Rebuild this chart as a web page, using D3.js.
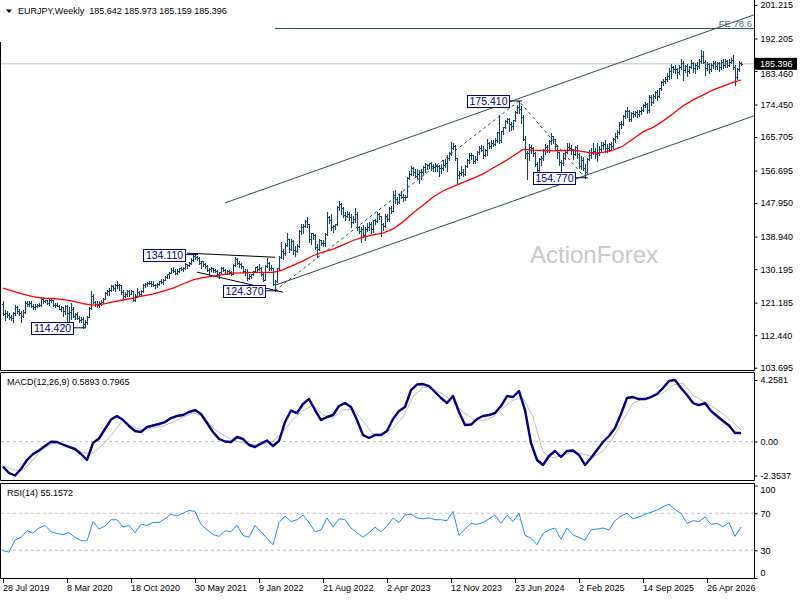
<!DOCTYPE html>
<html><head><meta charset="utf-8">
<script src="https://cdn.jsdelivr.net/npm/d3@7"></script>
<style>body{margin:0;background:#fff}svg{display:block;font-family:"Liberation Sans",Arial,sans-serif}</style>
</head><body>
<script>
// ---------- DATA (weekly EURJPY) ----------
const firstOpen = 120.9;
const closes = [
118.2,118.4,117.9,117.3,117.0,118.3,119.9,118.9,118.5,117.6,
118.6,121.1,120.7,121.2,120.3,120.1,120.4,120.6,120.5,122.1,
121.5,121.9,121.1,121.8,121.9,120.5,120.6,120.4,119.6,119.9,
118.9,120.3,118.4,118.6,119.4,117.6,118.2,117.1,116.4,116.9,
115.4,115.9,117.4,119.8,123.1,121.4,120.8,120.5,121.1,121.4,
122.3,123.8,124.4,124.6,125.6,125.0,126.0,125.8,125.9,124.1,
122.9,123.6,124.4,123.6,124.2,122.0,122.9,124.0,123.4,124.2,
126.0,126.1,126.4,126.6,126.2,126.0,125.8,126.3,127.1,126.8,
127.3,128.1,128.9,129.2,130.0,129.8,129.2,129.8,130.4,130.3,
130.4,131.6,131.3,131.9,132.6,133.6,133.4,133.3,131.9,132.3,
131.5,131.1,130.0,130.1,130.4,130.0,129.8,128.9,129.4,130.6,
129.9,129.0,129.7,129.5,129.0,131.2,133.0,131.9,131.6,131.0,
129.7,129.4,127.8,128.3,128.8,129.6,130.7,130.2,130.6,128.9,
127.4,131.0,131.8,130.5,130.4,126.3,127.0,130.4,133.5,135.0,
134.5,136.8,138.2,135.6,137.8,135.4,135.1,136.5,140.5,141.4,
141.8,143.1,142.2,138.3,139.8,139.3,136.2,135.5,137.9,137.2,
137.1,139.6,144.1,143.4,141.6,141.8,142.2,146.9,147.7,146.6,
144.7,144.6,144.9,144.3,143.0,143.6,145.0,141.5,140.5,140.9,
139.3,141.1,141.4,142.4,140.9,143.3,143.1,144.9,144.5,142.2,
141.8,144.6,143.6,146.6,145.9,150.2,149.0,148.3,150.0,149.7,
149.6,149.7,154.7,155.9,157.5,156.3,155.2,155.9,156.2,156.3,
157.6,158.4,158.2,158.6,158.0,157.7,157.9,157.9,157.5,157.4,
158.3,158.6,160.1,161.4,162.9,163.3,160.0,155.4,156.0,156.3,
155.7,157.8,159.5,160.8,160.9,159.2,159.9,161.7,162.8,162.3,
160.9,162.1,164.1,163.3,164.0,163.9,164.9,167.1,165.0,167.3,
168.3,169.9,170.6,169.1,168.6,170.2,172.4,173.8,173.3,171.2,
165.3,161.3,161.4,163.1,162.7,161.4,158.4,156.8,159.8,160.0,
162.2,163.0,162.1,164.6,165.9,165.1,163.3,161.6,158.9,158.7,
160.2,161.7,163.1,162.8,162.4,161.2,163.1,161.1,157.8,159.5,
157.4,156.3,159.9,160.9,161.8,162.0,161.1,161.5,162.4,163.5,
163.9,162.8,162.9,163.8,163.3,165.1,165.9,167.2,169.3,169.1,
171.4,172.7,172.8,170.6,172.2,171.9,172.4,171.9,172.6,172.9,
174.3,174.6,172.9,176.6,175.2,176.8,177.9,176.7,178.8,180.4,
180.9,181.2,182.0,183.6,184.5,183.9,184.0,183.2,184.6,185.5,
183.8,184.9,183.5,184.6,185.7,184.3,185.2,184.8,186.2,187.4,
186.0,184.2,185.3,184.1,185.0,185.6,184.7,185.5,184.6,185.9,
185.0,186.1,185.2,186.0,186.4,184.6,181.8,183.9,185.642,185.396];
const highs = [
121.5,119.3,119.0,118.5,117.9,118.8,120.5,120.2,119.4,118.9,
119.1,121.5,121.7,121.5,121.5,120.8,120.9,120.9,121.2,122.6,
122.7,122.0,122.0,122.3,122.3,121.9,121.0,121.1,120.6,120.2,
120.1,120.6,120.5,119.9,121.2,119.9,118.4,118.6,117.6,117.2,
117.2,116.6,117.6,120.0,124.4,123.4,121.7,121.7,121.6,121.8,
122.4,124.0,124.6,125.1,125.9,125.9,126.1,127.1,126.1,126.0,
124.5,124.1,124.6,124.6,124.6,124.3,123.6,125.1,124.3,124.7,
126.1,126.4,126.8,127.0,126.9,127.0,126.3,126.6,127.1,127.5,
127.5,128.3,129.0,129.5,130.4,130.7,130.2,130.3,130.6,130.8,
130.9,131.9,131.7,132.1,133.1,133.9,134.11,133.8,133.4,132.4,
132.5,131.8,131.4,130.6,130.8,130.4,130.3,129.9,129.5,130.9,
130.9,130.1,129.9,130.0,129.8,131.5,133.5,133.1,132.4,131.9,
131.0,130.2,130.2,128.8,128.9,129.8,130.9,131.0,131.6,130.7,
129.5,131.2,133.2,132.1,131.4,130.5,127.3,130.6,133.8,137.5,
135.7,137.1,140.0,138.3,138.3,137.9,136.3,137.0,140.8,142.3,
142.3,143.5,144.3,142.3,139.9,140.0,139.6,136.9,138.4,138.0,
138.1,139.8,145.6,144.4,145.0,142.1,142.4,147.1,148.4,148.1,
146.9,145.5,145.9,145.6,144.9,144.6,146.7,145.5,141.8,141.4,
142.1,141.6,142.5,142.8,142.9,143.4,143.7,145.6,145.4,144.6,
142.7,144.9,145.0,146.8,147.1,151.2,151.6,149.5,150.4,151.1,
150.4,150.2,154.9,156.7,158.0,157.6,157.2,157.0,156.8,157.0,
157.8,158.7,158.5,158.8,158.9,158.5,158.6,158.1,158.3,158.4,
159.6,159.7,160.8,161.8,164.3,164.0,163.5,160.1,156.6,157.9,
157.2,158.2,159.9,161.3,161.4,161.0,160.5,161.9,163.2,163.7,
163.2,162.5,165.3,164.4,164.8,164.8,165.4,167.2,171.6,167.4,
168.5,170.3,170.9,170.9,169.8,170.4,172.6,174.2,175.41,174.0,
171.6,166.0,162.0,163.9,163.6,163.1,161.6,159.0,160.2,160.5,
162.5,163.9,163.7,164.8,166.7,166.0,165.3,163.5,161.8,159.6,
161.3,162.0,164.2,164.0,163.6,162.5,163.4,163.6,161.4,160.5,
160.4,158.4,160.2,162.2,162.9,164.2,162.7,164.0,163.2,164.3,
164.5,164.9,163.9,164.2,164.3,165.4,166.8,167.6,169.7,170.0,
171.6,173.0,173.9,173.1,172.4,172.7,172.8,172.9,172.9,173.8,
174.7,175.2,174.8,177.1,176.9,177.2,178.2,178.3,179.0,180.8,
181.4,181.8,182.8,184.2,185.4,184.8,185.0,184.4,185.1,186.6,
186.2,185.2,185.3,184.9,186.3,186.0,185.6,185.9,186.7,189.0,
188.9,186.4,185.8,185.7,185.6,186.2,186.1,185.9,186.0,186.3,
186.6,186.8,186.5,186.7,187.0,187.8,185.0,184.4,186.1,185.973];
const lows = [
117.8,116.6,117.3,116.7,116.6,115.9,117.9,118.5,117.8,115.9,
117.2,118.4,120.3,120.4,120.1,119.6,119.6,120.1,120.2,120.3,
121.2,121.3,120.7,120.5,121.4,120.2,120.0,120.2,119.4,118.9,
117.5,118.2,116.1,115.8,116.8,117.2,116.8,116.7,116.0,115.9,
114.42,114.6,115.5,117.2,119.6,121.1,120.2,119.9,120.0,120.6,
121.0,122.1,123.2,123.2,124.4,124.6,124.4,125.1,124.6,123.6,
122.4,122.6,123.1,123.0,123.4,121.6,121.7,122.8,122.9,123.2,
124.0,125.3,125.7,126.2,125.6,125.6,125.1,125.5,126.0,126.4,
126.2,127.2,127.9,127.9,129.1,129.4,128.8,128.9,129.3,129.9,
129.8,130.2,130.6,131.0,131.5,132.5,132.9,132.7,131.7,130.5,
131.1,130.6,129.6,128.7,129.8,129.4,129.5,128.5,127.9,129.2,
129.7,128.8,128.9,129.0,128.6,129.0,131.0,131.5,130.9,130.5,
129.4,128.7,127.4,127.6,127.8,128.6,129.4,129.7,130.0,128.4,
127.1,127.3,130.7,130.0,129.9,125.9,124.37,126.8,129.9,133.2,
133.0,134.0,136.5,134.7,135.3,134.4,133.7,134.7,136.2,139.6,
140.0,141.5,141.5,137.6,136.9,138.4,135.7,133.4,135.4,136.6,
136.5,136.4,139.3,142.7,140.8,140.3,140.9,142.1,146.1,145.1,
144.2,143.4,144.1,143.3,141.6,142.5,142.9,140.8,139.8,137.4,
138.8,138.0,140.5,140.8,139.8,140.2,142.4,142.8,143.8,139.0,
140.7,141.4,143.1,143.2,145.2,145.8,148.1,147.7,147.9,149.3,
148.5,148.9,149.5,154.3,155.5,155.5,154.9,154.8,153.4,154.5,
155.7,156.4,157.2,157.3,156.9,156.7,156.6,156.5,155.3,156.1,
156.9,157.7,156.7,159.5,161.0,162.4,159.5,153.2,154.7,155.5,
155.3,155.6,157.6,158.8,159.9,158.6,158.6,159.6,161.1,161.9,
160.2,160.6,161.0,162.7,162.8,163.3,163.6,164.3,164.0,164.5,
166.6,168.1,169.6,167.4,167.6,167.8,170.0,172.1,172.2,169.6,
164.8,160.2,154.4,159.5,161.5,160.5,157.8,155.2,155.5,158.2,
159.6,161.2,161.6,161.8,163.8,164.0,162.5,160.2,158.2,156.2,
158.3,159.9,161.4,162.1,161.2,159.8,160.8,160.2,157.5,157.2,
156.8,154.77,156.1,159.6,160.1,161.2,160.2,159.4,161.0,161.9,
162.5,161.8,161.6,162.0,162.5,162.9,164.3,165.5,166.6,168.1,
168.9,170.9,171.2,170.0,170.1,171.1,171.3,171.0,171.5,172.0,
172.6,173.9,172.1,172.5,174.4,174.9,176.3,175.6,176.5,178.4,
179.8,180.2,180.8,181.4,181.6,183.1,183.0,181.6,182.7,184.0,
181.0,183.2,182.1,182.8,184.2,183.1,183.0,184.1,184.3,185.6,
185.5,182.3,183.8,183.0,183.6,184.3,183.9,184.1,183.4,184.1,
184.3,184.5,184.6,184.9,185.5,184.1,179.7,181.4,183.6,185.159];

// red moving average, one value every 5 bars
const maStep = 5;
const movingAvg = [
125.1,124.3,123.5,122.8,122.4,122.3,122.0,121.6,120.9,120.5,
120.8,121.4,121.9,122.4,123.0,123.5,124.3,125.1,126.2,127.3,
127.9,128.3,128.7,129.1,129.2,129.3,129.3,129.3,130.0,131.2,
132.4,133.8,134.8,135.6,136.7,137.9,138.8,139.4,139.9,141.0,
142.9,145.3,147.4,149.6,151.2,152.4,153.5,154.6,155.8,157.4,
158.9,160.6,162.4,162.2,162.1,162.0,162.1,162.2,161.8,161.4,
161.6,162.2,163.3,165.2,167.1,168.3,170.0,172.0,174.1,175.7,
177.0,178.4,179.4,180.4,181.05];

// MACD(12,26,9) main line, one value every 3 bars
const macdStep = 3;
const macdMain = [
-1.744,-2.180,-2.354,-1.903,-1.280,-0.865,-0.623,-0.311,-0.014,-0.035,
-0.208,-0.367,-0.519,-0.865,-1.280,-0.104,0.208,0.865,1.522,1.765,
1.488,1.073,0.727,0.657,1.003,1.107,1.211,1.349,1.626,1.765,
1.834,2.042,2.180,1.903,1.280,0.657,0.173,0.000,-0.035,0.311,
0.173,-0.242,-0.381,-0.138,0.069,-0.311,0.035,1.349,2.145,1.972,
2.595,2.941,2.180,1.488,1.696,1.834,2.457,2.664,2.388,1.488,
0.450,0.242,0.450,0.450,0.727,1.557,2.111,2.388,3.564,3.945,
3.979,3.841,3.426,3.010,2.664,3.149,2.042,1.142,1.176,1.557,
1.765,1.834,1.972,2.457,3.149,3.080,3.495,2.180,-0.104,-1.280,
-1.626,-1.003,-0.657,-1.073,-0.657,-0.623,-0.934,-1.626,-1.142,-0.588,
-0.035,0.381,0.934,1.903,3.010,3.080,2.941,2.941,3.080,3.287,
3.702,4.187,4.2581,3.702,3.218,2.664,2.526,2.664,2.111,1.765,
1.419,1.107,0.588,0.5893];

// MACD signal line, one value every 5 bars
const signalStep = 5;
const macdSignal = [
-1.626,-1.972,-1.972,-1.280,-0.450,-0.138,-0.208,-0.450,-0.796,-0.796,
-0.208,0.588,1.488,1.003,0.796,0.934,1.073,1.349,1.696,1.972,
1.765,0.934,0.450,0.104,-0.104,-0.208,-0.173,0.035,0.657,1.557,
2.145,2.526,1.834,1.626,2.180,2.249,1.419,0.519,0.519,0.900,
1.696,3.080,3.772,3.633,3.287,2.734,2.042,1.557,1.419,1.696,
2.318,2.872,3.010,1.696,-0.727,-1.142,-0.934,-0.727,-0.865,-1.073,
-0.657,0.242,1.488,2.664,2.941,3.080,3.356,3.910,4.048,3.218,
2.803,2.388,1.903,1.349,0.7965];

// RSI(14), one value every 3 bars
const rsiStep = 3;
const rsi14 = [
29.5,28,41,44,51,48.6,54,57,50,48,
47,49,44,40.5,40,61,53,56,63,63,
55,57,49,58,57,60,60,64,69,67,
70,73,72,58,52,47,45,51,50,57,
46,44,57,50,43,36,60,67,61,63,
68,60,50,52,65,55,64,63,54,49,
44,49,55,50,56,65,60,68,69,65,
64,65,63,63,62,72,46,53,59,58,
60,64,68,59,68,61,70,46,43,36,
48,52,54,42,54,46.5,44,41,52,53,
54,52,62,67,70,64,66,69,71,73.5,
77,80,74,70,59,62,61,66,58,59,
55.5,60,45,55.1572];

// axis labels
const priceTicks = [201.215,192.205,183.460,174.450,165.705,156.695,147.950,138.940,130.195,121.185,112.440,103.695];
const macdTicks = [4.2581,0,-2.3537];
const macdTickLabels = ['4.2581','0.00','-2.3537'];
const rsiTicks = [100,70,30,0];
const rsiLevels = [70,30];
const dateTickIdx = [0,32,64,96,128,160,192,224,256,288,320,352];
const dateTickLabels = ['28 Jul 2019','8 Mar 2020','18 Oct 2020','30 May 2021','9 Jan 2022','21 Aug 2022','2 Apr 2023','12 Nov 2023','23 Jun 2024','2 Feb 2025','14 Sep 2025','26 Apr 2026'];

// annotations
const pivotIdx = [40,96,136,258,291];
const pivotVal = [114.42,134.11,124.37,175.41,154.77];
const pivotText = ['114.420','134.110','124.370','175.410','154.770'];
const upperChannel = [[111,148.0],[258,176.1]];
const lowerChannel = [[136,125.85],[292,155.53]];
const triangleLines = [[[92,134.5],[136,133.4]],[[97,129.4],[140,124.0]]];
const fePoints = [[136,124.37],[258,175.41],[291,154.77]];
const feLevel = 194.89;
const header = ['EURJPY,Weekly','185.642','185.973','185.159','185.396'];
const lastPrice = 185.396;

// ---------- DRAWING ----------
const W = 800, H = 600, AXX = 754;
const N = closes.length;
const svg = d3.select('body').append('svg').attr('width', W).attr('height', H);
svg.append('rect').attr('width', W).attr('height', H).attr('fill', '#fff');

const x = d3.scaleLinear().domain([0, N - 1]).range([3, 3 + 2 * (N - 1)]);
const yP = d3.scaleLinear().domain([103.695, 201.215]).range([367.7, 5]);
const yM = d3.scaleLinear().domain([-2.3537, 4.2581]).range([475.5, 380]);
const yR = d3.scaleLinear().domain([0, 100]).range([578, 485.5]);

const defs = svg.append('defs');
const clip = (id, y0, y1) => defs.append('clipPath').attr('id', id).append('rect').attr('x', 1).attr('y', y0).attr('width', AXX - 1).attr('height', y1 - y0);
clip('cMain', 0, 370); clip('cMacd', 373, 480); clip('cRsi', 484, 578);

const gMain = svg.append('g').attr('clip-path', 'url(#cMain)');
const gMacd = svg.append('g').attr('clip-path', 'url(#cMacd)');
const gRsi = svg.append('g').attr('clip-path', 'url(#cRsi)');

// watermark
svg.append('text').attr('x', 530).attr('y', 263).attr('font-size', 24).attr('fill', '#c8c8c8').text('ActionForex');

// current price line
gMain.append('line').attr('x1', 1).attr('x2', AXX).attr('y1', yP(lastPrice)).attr('y2', yP(lastPrice))
  .attr('stroke', '#c0c0c0').attr('stroke-width', 1);

// channel rays
function ray(g, p1, p2, color) {
  const x1 = x(p1[0]), y1 = yP(p1[1]), x2 = x(p2[0]), y2 = yP(p2[1]);
  const s = (y2 - y1) / (x2 - x1);
  g.append('line').attr('x1', x1).attr('y1', y1).attr('x2', AXX).attr('y2', y1 + s * (AXX - x1))
    .attr('stroke', color).attr('stroke-width', 1);
}
ray(gMain, upperChannel[0], upperChannel[1], '#2f4f4f');
ray(gMain, lowerChannel[0], lowerChannel[1], '#2f4f4f');

// FE level
gMain.append('line').attr('x1', x(fePoints[0][0])).attr('x2', AXX).attr('y1', yP(feLevel)).attr('y2', yP(feLevel))
  .attr('stroke', '#2f4f4f').attr('stroke-width', 1);
svg.append('text').attr('x', 752).attr('y', yP(feLevel) - 1.5).attr('text-anchor', 'end')
  .attr('font-size', 9.5).attr('fill', '#56686b').text('FE 78.6');

// FE dashed legs
gMain.append('path').attr('d', d3.line().x(d => x(d[0])).y(d => yP(d[1]))(fePoints))
  .attr('fill', 'none').attr('stroke', '#2f4f4f').attr('stroke-width', 1).attr('stroke-dasharray', '3,3');

// triangle lines
triangleLines.forEach(l => {
  gMain.append('line').attr('x1', x(l[0][0])).attr('y1', yP(l[0][1])).attr('x2', x(l[1][0])).attr('y2', yP(l[1][1]))
    .attr('stroke', '#000').attr('stroke-width', 1);
});

// OHLC bars
const barPath = closes.map((c, i) => {
  const o = i === 0 ? firstOpen : closes[i - 1];
  const px = Math.round(x(i)) + 0.5;
  const yo = Math.round(yP(o)) + 0.5, yc = Math.round(yP(c)) + 0.5;
  return `M${px},${Math.round(yP(highs[i]))}V${Math.round(yP(lows[i])) + 1}M${px - 1.5},${yo}H${px}M${px},${yc}H${px + 1.5}`;
}).join('');
gMain.append('path').attr('d', barPath).attr('fill', 'none').attr('stroke', '#17435f').attr('stroke-width', 1.1);

// moving average
const stepLine = (step, yS) => d3.line().x((d, k) => x(Math.min(k * step, N - 1))).y(d => yS(d));
gMain.append('path').attr('d', stepLine(maStep, yP)(movingAvg)).attr('fill', 'none')
  .attr('stroke', '#ff0000').attr('stroke-width', 1.3);

// pivot labels
pivotIdx.forEach((idx, k) => {
  const px = x(idx), py = yP(pivotVal[k]);
  const bw = 42, bh = 12, right = px - 10;
  gMain.append('line').attr('x1', right).attr('x2', px + 3).attr('y1', py).attr('y2', py)
    .attr('stroke', '#000060').attr('stroke-width', 1);
  gMain.append('rect').attr('x', Math.round(right - bw) + 0.5).attr('y', Math.round(py - bh / 2) + 0.5)
    .attr('width', bw).attr('height', bh).attr('fill', '#fff').attr('stroke', '#000080');
  gMain.append('text').attr('x', right - bw / 2 + 0.5).attr('y', py + 4).attr('text-anchor', 'middle')
    .attr('font-size', 10.5).attr('fill', '#000080').text(pivotText[k]);
});

// MACD
gMacd.append('line').attr('x1', 1).attr('x2', AXX).attr('y1', yM(0)).attr('y2', yM(0))
  .attr('stroke', '#c0c0c0').attr('stroke-dasharray', '3,3');
gMacd.append('path').attr('d', stepLine(signalStep, yM)(macdSignal)).attr('fill', 'none')
  .attr('stroke', '#c0c0c0').attr('stroke-width', 1);
gMacd.append('path').attr('d', stepLine(macdStep, yM)(macdMain)).attr('fill', 'none')
  .attr('stroke', '#000080').attr('stroke-width', 2.4).attr('stroke-linejoin', 'round');

// RSI
rsiLevels.forEach(v => gRsi.append('line').attr('x1', 1).attr('x2', AXX).attr('y1', yR(v)).attr('y2', yR(v))
  .attr('stroke', '#c0c0c0').attr('stroke-dasharray', '3,3'));
gRsi.append('path').attr('d', stepLine(rsiStep, yR)(rsi14)).attr('fill', 'none')
  .attr('stroke', '#1e90ff').attr('stroke-width', 1);

// panel frames
const frame = (y0, y1, top) => {
  const p = d3.path();
  if (top) { p.moveTo(0.5, y0 + 0.5); p.lineTo(AXX + 0.5, y0 + 0.5); }
  p.moveTo(0.5, top ? y0 + 0.5 : 42); p.lineTo(0.5, y1 + 0.5); p.lineTo(AXX + 0.5, y1 + 0.5);
  p.moveTo(AXX + 0.5, top ? y0 + 0.5 : 0); p.lineTo(AXX + 0.5, y1 + 0.5);
  svg.append('path').attr('d', p.toString()).attr('fill', 'none').attr('stroke', '#000').attr('stroke-width', 1);
};
frame(0, 370, false); frame(372, 480, true); frame(483, 578, true);

// axes
function styleAxis(g) {
  g.select('.domain').remove();
  g.selectAll('text').attr('font-size', 9).attr('fill', '#000').attr('font-family', '"Liberation Sans",Arial,sans-serif');
  g.selectAll('line').attr('stroke', '#000');
}
const pAx = svg.append('g').attr('transform', `translate(${AXX + 0.5},0)`)
  .call(d3.axisRight(yP).tickValues(priceTicks).tickSize(3).tickPadding(3).tickFormat(d3.format('.3f')))
  .call(styleAxis);
svg.append('g').attr('transform', `translate(${AXX + 0.5},0)`)
  .call(d3.axisRight(yM).tickValues(macdTicks).tickSize(3).tickPadding(3).tickFormat((d, k) => macdTickLabels[k]))
  .call(styleAxis);
const rAx = svg.append('g').attr('transform', `translate(${AXX + 0.5},0)`)
  .call(d3.axisRight(yR).tickValues(rsiTicks).tickSize(3).tickPadding(3).tickFormat(d3.format('d')))
  .call(styleAxis);
rAx.selectAll('.tick').filter(d => d === 100).select('text').attr('y', 4.5);
rAx.selectAll('.tick').filter(d => d === 0).select('text').attr('y', -5.5);

const dAx = svg.append('g').attr('transform', 'translate(0,579)')
  .call(d3.axisBottom(x).tickValues(dateTickIdx).tickSize(4).tickPadding(2).tickFormat((d, k) => dateTickLabels[k]))
  .call(styleAxis);
dAx.selectAll('text').attr('text-anchor', 'start').attr('x', -0.5);

// last price tag (drawn over the 183.460 label, which peeks out below it as in the reference)
const lp = yP(lastPrice);
pAx.selectAll('.tick').filter(d => d === 183.460).select('text').attr('y', 2.5);
svg.append('rect').attr('x', 755).attr('y', lp - 6).attr('width', 42).attr('height', 12).attr('fill', '#000');
svg.append('text').attr('x', 760).attr('y', lp + 3.3).attr('font-size', 9).attr('fill', '#fff').text(lastPrice.toFixed(3));

// header
svg.append('path').attr('d', 'M6,9.5L12,9.5L9,13Z').attr('fill', '#000');
svg.append('text').attr('x', 18).attr('y', 14).attr('font-size', 9).attr('fill', '#000')
  .attr('xml:space', 'preserve').style('white-space', 'pre')
  .text(header[0] + '  ' + header.slice(1).join(' '));
svg.append('text').attr('x', 7).attr('y', 385).attr('font-size', 9).attr('fill', '#000')
  .text('MACD(12,26,9) ' + macdMain[macdMain.length - 1].toFixed(4) + ' ' + macdSignal[macdSignal.length - 1].toFixed(4));
svg.append('text').attr('x', 7).attr('y', 496).attr('font-size', 9).attr('fill', '#000')
  .text('RSI(14) ' + rsi14[rsi14.length - 1].toFixed(4));
</script>
</body></html>
